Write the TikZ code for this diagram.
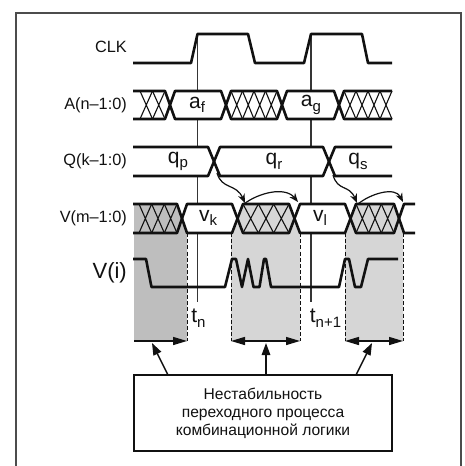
\documentclass[tikz,border=0pt]{standalone}
\usepackage{fontspec}
\setmainfont{Liberation Sans}
\usetikzlibrary{arrows.meta}
\definecolor{shadeD}{HTML}{BEBEBE}
\definecolor{shadeL}{HTML}{D6D6D6}
\definecolor{ink}{HTML}{111111}
\newcommand{\SigLabel}[3]{{\fontsize{#3}{#3}\selectfont #1\raisebox{-0.22em}{\fontsize{15}{15}\selectfont #2}}}
\newcommand{\XHatch}[5]{% x0 x1 cells ytop ybot
  \pgfmathsetmacro{\hw}{(#2-#1)/#3}
  \foreach \ii in {1,...,#3}{
    \pgfmathsetmacro{\xa}{#1+(\ii-1)*\hw}
    \pgfmathsetmacro{\xb}{#1+\ii*\hw}
    \draw[hatchline] (\xa,#4) -- (\xb,#5) (\xa,#5) -- (\xb,#4);
  }}
\tikzset{
  sig/.style={draw=ink,line width=2.6pt,line join=round},
  hatchline/.style={draw=ink,line width=1.1pt},
  marker/.style={draw=ink!85,line width=1.2pt},
  bound/.style={draw=ink,line width=1pt,dash pattern=on 4pt off 2.2pt},
  lab/.style={anchor=east,inner sep=0pt,font=\fontsize{16.3}{18}\selectfont,text=ink},
  val/.style={anchor=center,inner sep=0pt,text=ink},
  span/.style={draw=ink,line width=1.4pt},
  callout/.style={draw=ink,line width=1.4pt,-{Triangle[length=12pt,width=8.5pt]}},
  curved/.style={draw=ink,line width=1.2pt,-{Stealth[length=9pt,width=7pt]}},
}
\begin{document}
\begin{tikzpicture}[x=1pt,y=-1pt]
\useasboundingbox (0,0) rectangle (464,466);
\fill[white] (0,0) rectangle (464,466);
% frame
\draw[draw=ink!75,line width=1.8pt] (16,466) -- (16,13) -- (461,13) -- (461,466);
% shaded intervals
\fill[shadeD] (134,204) -- (177,204) -- (182,218.5) -- (187,233) -- (187,341) -- (134,341) -- cycle;
\fill[shadeL] (238,218.5) -- (243,204) -- (289,204) -- (295,218.5) -- (300,233) -- (300,341) -- (231,341) -- (231,233) -- (233,233) -- cycle;
\fill[shadeL] (350,218.5) -- (356,204) -- (394,204) -- (399,218.5) -- (403,233) -- (403,341) -- (345,341) -- (345,233) -- cycle;
% sampling markers
\coordinate (mA) at (197.5,34); \coordinate (mAe) at (197.5,302);
\coordinate (mB) at (311,34); \coordinate (mBe) at (311,302);
\draw[marker] (mA) -- (mAe);
\draw[marker] (mB) -- (mBe);
% white bands
\fill[white] (170,105) -- (175,91) -- (221,91) -- (226,105) -- (221,119) -- (175,119) -- cycle;
\fill[white] (282,105) -- (287,91) -- (334,91) -- (339,105) -- (334,119) -- (287,119) -- cycle;
\fill[white] (133,147) rectangle (392,176);
\fill[white] (182,218.5) -- (187,204) -- (232,204) -- (238,218.5) -- (232,233) -- (187,233) -- cycle;
\fill[white] (295,218.5) -- (300,204) -- (345,204) -- (350,218.5) -- (345,233) -- (300,233) -- cycle;
% hatching
\XHatch{140}{165}{2}{91}{119}
\XHatch{231}{277}{4}{91}{119}
\XHatch{344}{392}{4}{91}{119}
\XHatch{139}{177}{3}{204}{233}
\XHatch{243}{289}{3}{204}{233}
\XHatch{356}{394}{3}{204}{233}
% CLK
\draw[sig] (133,63) -- (191,63) -- (197.5,34) -- (248,34) -- (255,63) -- (304,63) -- (311,34) -- (362,34) -- (368,63) -- (392,63);
% A
\draw[sig] (133,91) -- (165,91) -- (175,119) -- (221,119) -- (231,91) -- (277,91) -- (287,119) -- (334,119) -- (344,91) -- (392,91);
\draw[sig] (133,119) -- (165,119) -- (175,91) -- (221,91) -- (231,119) -- (277,119) -- (287,91) -- (334,91) -- (344,119) -- (392,119);
% Q
\draw[sig] (133,147) -- (208,147) -- (220,176) -- (323,176) -- (335,147) -- (392,147);
\draw[sig] (133,176) -- (208,176) -- (220,147) -- (323,147) -- (335,176) -- (392,176);
% V
\draw[sig] (133,204) -- (177,204) -- (187,233) -- (232,233) -- (243,204) -- (289,204) -- (300,233) -- (345,233) -- (356,204) -- (394,204) -- (404,233) -- (415,233);
\draw[sig] (133,233) -- (177,233) -- (187,204) -- (232,204) -- (243,233) -- (289,233) -- (300,204) -- (345,204) -- (356,233) -- (394,233) -- (404,204) -- (415,204);
% V(i)
\draw[sig] (133,259) -- (146,259) -- (151.5,287) -- (225,287) -- (232,259) -- (236,259) -- (242,287) -- (248,259) -- (253.5,287) -- (259.5,287) -- (264,259) -- (266,259) -- (271,287) -- (339,287) -- (345,259) -- (349,259) -- (355,287) -- (361,287) -- (368,259) -- (398,259);
% interval boundaries
\draw[bound] (187,233) -- (187,341);
\draw[bound] (231,233) -- (231,341);
\draw[bound] (300,233) -- (300,341);
\draw[bound] (345,233) -- (345,341);
\draw[bound] (403,233) -- (403,341);
% interval spans
\coordinate (s1a) at (134,341); \coordinate (s1b) at (187,341);
\coordinate (s2a) at (231,341); \coordinate (s2b) at (300,341);
\coordinate (s3a) at (345,341); \coordinate (s3b) at (403,341);
\draw[span,-{Triangle[length=14pt,width=8pt]}] (s1a) -- (s1b);
\draw[span,{Triangle[length=14pt,width=8pt]}-{Triangle[length=14pt,width=8pt]}] (s2a) -- (s2b);
\draw[span,{Triangle[length=14pt,width=8pt]}-{Triangle[length=14pt,width=8pt]}] (s3a) -- (s3b);
% transition arrows
\coordinate (qx1) at (217,173); \coordinate (h1) at (245,203);
\coordinate (h1s) at (244,204); \coordinate (h1e) at (298,202);
\coordinate (qx2) at (333,175); \coordinate (h2) at (357,203);
\coordinate (h2s) at (358,204); \coordinate (h2e) at (403,202);
\draw[curved] (qx1) .. controls (222,190) and (236,183) .. (h1);
\draw[curved] (h1s) .. controls (258,193) and (285,186) .. (h1e);
\draw[curved] (qx2) .. controls (338,192) and (349,184) .. (h2);
\draw[curved] (h2s) .. controls (370,194) and (395,186) .. (h2e);
% labels
\node[lab] (lclk) at (127,47) {CLK};
\node[lab] (la) at (127,105) {A(n–1:0)};
\node[lab] (lq) at (127,161.5) {Q(k–1:0)};
\node[lab] (lv) at (127,218) {V(m–1:0)};
\node[lab,font=\fontsize{22}{24}\selectfont] (lvi) at (127,273) {V(i)};
\node[val] (af) at (197,105) {\SigLabel{a}{f}{21}};
\node[val] (ag) at (311,105) {\SigLabel{a}{g}{21}};
\node[val] (qp) at (178,161.5) {\SigLabel{q}{p}{21}};
\node[val] (qr) at (274,161.5) {\SigLabel{q}{r}{21}};
\node[val] (qs) at (358,161.5) {\SigLabel{q}{s}{21}};
\node[val] (vk) at (208,218) {\SigLabel{v}{k}{21}};
\node[val] (vl) at (320,218) {\SigLabel{v}{l}{21}};
\node[val] (tn) at (198.5,318) {\SigLabel{t}{n}{21}};
\node[val] (tn1) at (325.5,318) {\SigLabel{t}{n+1}{21}};
% caption box
\node[draw=ink,line width=1.4pt,fill=white,minimum width=258pt,minimum height=76pt,inner sep=0pt,align=center,text=ink,font=\fontsize{15.6}{18}\selectfont] (box) at (263,413) {Нестабильность\\переходного процесса\\комбинационной логики};
\coordinate (c1) at (168,375); \coordinate (t1) at (152,343);
\coordinate (c2) at (266,375); \coordinate (t2) at (266,343);
\coordinate (c3) at (356,375); \coordinate (t3) at (372,343);
\draw[callout] (c1) -- (t1);
\draw[callout] (c2) -- (t2);
\draw[callout] (c3) -- (t3);
\end{tikzpicture}
\end{document}
